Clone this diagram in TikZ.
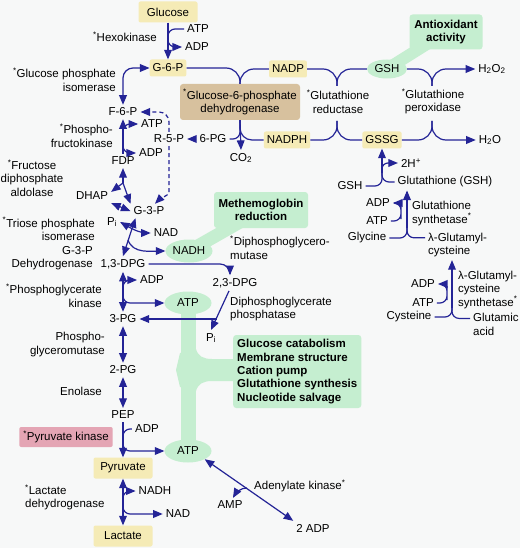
\documentclass[tikz,border=0pt]{standalone}
\usepackage{fontspec}
\setmainfont{Liberation Sans}
\usetikzlibrary{arrows}
\usetikzlibrary{shapes}
\usetikzlibrary{backgrounds,positioning}
\usepackage{xcolor}

\definecolor{pathblue}{RGB}{36,36,150}
\definecolor{paleyellow}{RGB}{245,235,182}
\definecolor{palegreen}{RGB}{197,238,208}
\definecolor{paletan}{RGB}{215,193,158}
\definecolor{palepink}{RGB}{228,165,180}
\definecolor{paper}{RGB}{247,248,248}

\newcommand{\enz}{\textsuperscript{*}}

\tikzstyle{metabox}=[fill=paleyellow,rounded corners=2pt,inner xsep=3pt,inner ysep=2pt,minimum height=17pt]
\tikzstyle{bigbox}=[metabox,minimum width=59pt,minimum height=21pt]
\tikzstyle{greenoval}=[ellipse,fill=palegreen,inner sep=0pt,minimum width=47pt,minimum height=23pt]
\tikzstyle{rolebox}=[fill=palegreen,rounded corners=3pt,font=\fontsize{11.5}{13.3}\selectfont\bfseries]
\tikzstyle{band}=[palegreen,line cap=butt]
\tikzstyle{rxn}=[pathblue,line width=1.2pt,rounded corners=7pt]
\tikzstyle{flow}=[rxn,->,>=triangle 45]
\tikzstyle{twoway}=[rxn,<->,>=triangle 45]

\begin{document}
\begin{tikzpicture}[x=1pt,y=-1pt,font=\fontsize{11.5}{13.3}\selectfont,inner sep=3pt]
  \useasboundingbox (0,0) rectangle (520,548);

  % glycolysis
  \node[bigbox]  (glucose)  at (168,12)  {Glucose};
  \node          (hkatp)    at (198,29)  {ATP};
  \node          (hkadp)    at (197,47)  {ADP};
  \node[anchor=east] (hklab) at (160,37) {\enz Hexokinase};
  \node[metabox] (g6p)      at (168,68)  {G-6-P};
  \node[anchor=east,align=right] (gpilab) at (119,79.5) {\enz Glucose phosphate\\isomerase};
  \node          (f6p)      at (123,112) {F-6-P};
  \node          (pfkatp)   at (152,124) {ATP};
  \node          (pfkadp)   at (151,153) {ADP};
  \node[anchor=east,align=right] (pfklab) at (116,135.5) {\enz Phospho-\\fructokinase};
  \node          (fdp)      at (123,161) {FDP};
  \node[align=center] (aldlab) at (32,178) {\enz Fructose\\diphosphate\\aldolase};
  \node          (dhap)     at (92,196)  {DHAP};
  \node          (g3p)      at (149,211) {G-3-P};
  \node[anchor=east,align=right] (tpilab) at (98,229) {\enz Triose phosphate\\isomerase};
  \node          (pia)      at (112,222) {P\textsubscript{i}};
  \node          (nada)     at (166,233) {NAD};
  \node[greenoval] (nadha)  at (189,251) {NADH};
  \node[anchor=east,align=right] (gapdlab) at (96,258.5) {G-3-P\\Dehydrogenase};
  \node          (dpg13)    at (123,264) {1,3-DPG};
  \node[anchor=west,align=left] (dpgmlab) at (227,247.5) {\enz Diphosphoglycero-\\mutase};
  \node          (dpg23)    at (235,283) {2,3-DPG};
  \node[anchor=west,align=left] (dpgplab) at (227,309) {Diphosphoglycerate\\phosphatase};
  \node          (pib)      at (211,338) {P\textsubscript{i}};
  \node          (pgkadp)   at (152,280) {ADP};
  \node[greenoval] (atpa)   at (188,303) {ATP};
  \node[anchor=east,align=right] (pgklab) at (105,295.5) {\enz Phosphoglycerate\\kinase};
  \node          (pg3)      at (123,319) {3-PG};
  \node[anchor=east,align=right] (pgmlab) at (108,344.5) {Phospho-\\glyceromutase};
  \node          (pg2)      at (123,370) {2-PG};
  \node[anchor=east] (enolab) at (105,391) {Enolase};
  \node          (pep)      at (123,415) {PEP};
  \node          (pkadp)    at (147,429) {ADP};
  \node[fill=palepink,rounded corners=2pt,inner xsep=4pt,minimum height=20pt] (pklab) at (66,437) {\enz Pyruvate kinase};
  \node[greenoval] (atpb)   at (188,451) {ATP};
  \node[bigbox]  (pyruvate) at (123,468) {Pyruvate};
  \node          (ldhnadh)  at (155,491) {NADH};
  \node          (ldhnad)   at (178,514) {NAD};
  \node[anchor=west,align=left] (ldhlab) at (22,497.5) {\enz Lactate\\dehydrogenase};
  \node[bigbox]  (lactate)  at (123,536) {Lactate};
  \node          (amp)      at (230,505) {AMP};
  \node[anchor=west] (adklab) at (251,486) {Adenylate kinase\enz};
  \node          (adpb)     at (313,528) {2 ADP};

  % pentose shunt
  \node[fill=paletan,rounded corners=3pt,align=center,minimum width=120pt,minimum height=36pt,inner sep=1pt] (g6pd) at (240,102) {\enz Glucose-6-phosphate\\dehydrogenase};
  \node[metabox] (nadp)     at (288,69)  {NADP};
  \node[metabox] (nadph)    at (287,140) {NADPH};
  \node          (pg6)      at (213,139) {6-PG};
  \node          (r5p)      at (169,139) {R-5-P};
  \node          (co2)      at (241,158) {CO\textsubscript{2}};

  % glutathione
  \node[greenoval,minimum width=40pt,minimum height=19pt] (gsh) at (387,69) {GSH};
  \node          (htwootwo) at (492,69)  {H\textsubscript{2}O\textsubscript{2}};
  \node[align=center] (grlab)  at (338,101.5) {\enz Glutathione\\reductase};
  \node[align=center] (gpxlab) at (433,101.5) {\enz Glutathione\\peroxidase};
  \node[metabox] (gssg)     at (382,140) {GSSG};
  \node          (htwoo)    at (490,140) {H\textsubscript{2}O};
  \node          (gshb)     at (350,186) {GSH};
  \node          (hplus)    at (411,163) {2H\textsuperscript{+}};
  \node          (gshname)  at (445,182) {Glutathione (GSH)};
  \node          (gsadp)    at (378,203) {ADP};
  \node          (gsatp)    at (377,221) {ATP};
  \node          (glycine)  at (367,238) {Glycine};
  \node[anchor=west,align=left] (gslab)  at (409,213.5) {Glutathione\\synthetase\enz};
  \node[anchor=west,align=left] (glucys) at (425,245) {λ-Glutamyl-\\cysteine};
  \node          (gcsadp)   at (423,284) {ADP};
  \node          (gcsatp)   at (423,303) {ATP};
  \node          (cysteine) at (409,317) {Cysteine};
  \node[anchor=west,align=left] (glutamic) at (470,324.5) {Glutamic\\acid};
  \node[anchor=west,align=left] (gcslab)   at (455,290) {λ-Glutamyl-\\cysteine\\synthetase\enz};

  % roles
  \node[rolebox,align=center,minimum width=94pt,minimum height=36pt] (methem) at (261,210) {Methemoglobin\\reduction};
  \node[rolebox,align=center,minimum width=73pt,minimum height=35pt] (antiox) at (446,32) {Antioxidant\\activity};
  \node[rolebox,align=left,anchor=west,minimum height=73pt,inner xsep=4pt] (roles) at (233,371.5) {Glucose catabolism\\Membrane structure\\Cation pump\\Glutathione synthesis\\Nucleotide salvage};

  \begin{pgfonlayer}{background}
    \fill[paper] (0,0) rectangle (520,548);
    \draw[band,line width=13pt] (nadha.center) -- (methem.center);
    \draw[band,line width=12pt] (gsh.center) -- (antiox.center);
    \draw[band,line width=15pt] (atpa.center) -- (atpb.center);
    \fill[palegreen] (180,353) -- (176,370) -- (180,387) -- (196,391) .. controls (198,384) and (203,381) .. (212,381)
      -- (236,381) -- (236,359) -- (212,359) .. controls (203,359) and (198,356) .. (196,349) -- cycle;
  \end{pgfonlayer}

  % hexokinase, isomerase, PFK
  \coordinate (hkj) at (168,38);
  \draw[flow] (glucose) -- (g6p);
  \draw[rxn]  (hkatp.west) -| (hkj);
  \draw[flow] (hkj) |- (hkadp.west);
  \draw[twoway,rounded corners=10pt] (f6p.north) |- (g6p.west);
  \coordinate (pfkj) at (123,131);
  \coordinate (pfkk) at (123,141);
  \draw[flow] (fdp.north) -- (f6p.south);
  \draw[flow] (pfkj) |- (pfkatp.west);
  \draw[flow] (pfkk) |- (pfkadp.west);

  % aldolase, TPI, G3PD
  \coordinate (aldj) at (123,183);
  \draw[flow] (aldj) -- (fdp.south);
  \draw[flow] (aldj) -- ([yshift=-3pt]dhap.north east);
  \draw[flow] (aldj) -- (g3p.north west);
  \draw[twoway] (dhap.south east) -- (g3p.west);
  \draw[twoway] ([xshift=5pt]g3p.south west) -- (dpg13.north);
  \draw[twoway] (pia.east) to[out=-30,in=180] (nada.west);
  \coordinate (gapdj) at (128,240);
  \draw[flow] (gapdj) to[out=-70,in=180] (nadha.west);

  % Rapoport-Luebering shunt
  \draw[flow,rounded corners=10pt] (dpg13.east) -| ([xshift=-5pt]dpg23.north);
  \draw[flow] ([xshift=-6pt]dpg23.south) -- (pib.north);
  \coordinate (dpgpj) at (216.5,319);
  \draw[flow] (dpgpj) -- (pg3.east);

  % lower glycolysis
  \draw[twoway] (dpg13.south) -- (pg3.north);
  \coordinate (pgkj) at (123,289);
  \draw[flow] (pgkj) |- (pgkadp.west);
  \draw[flow] (pgkj) |- (atpa.west);
  \draw[twoway] (pg3.south) -- (pg2.north);
  \draw[twoway] (pg2.south) -- (pep.north);
  \draw[flow] (pep.south) -- (pyruvate.north);
  \coordinate (pkj) at (123,440);
  \draw[rxn]  (pkadp.west) -| (pkj);
  \draw[flow] (pkj) |- (atpb.west);
  \draw[twoway] (pyruvate.south) -- (lactate.north);
  \coordinate (ldhj) at (123,501);
  \draw[flow] (ldhj) |- (ldhnadh.west);
  \draw[flow] (ldhj) |- (ldhnad.west);
  \draw[twoway] (atpb.south east) -- (adpb.north west);
  \coordinate (adkj) at (247,488);
  \draw[flow] (adkj) to[out=180,in=60] ([xshift=3pt]amp.north);

  % pentose shunt
  \draw[rxn,rounded corners=14pt] (g6p.east) -| (g6pd.north);
  \draw[rxn,rounded corners=14pt] (nadp.west) -| (g6pd.north);
  \draw[rxn,rounded corners=7pt] (g6pd.south) |- (pg6.east);
  \draw[rxn,rounded corners=12pt] (g6pd.south) |- (nadph.west);
  \draw[flow] (g6pd.south) -- (co2.north);
  \draw[flow] (pg6.west) -- (r5p.east);
  \draw[flow,dash pattern=on 4pt off 3pt,rounded corners=10pt] (r5p.north) |- (f6p.east);
  \coordinate (r5pbend) at (169,186);
  \draw[flow,dash pattern=on 4pt off 3pt] (r5p.south) -- (r5pbend) to[out=-90,in=45] ([xshift=6pt]g3p.north);

  % glutathione reductase and peroxidase
  \coordinate (grtop) at (337,86);
  \coordinate (grbot) at (337,121);
  \draw[rxn,rounded corners=14pt] (nadp.east) -| (grtop);
  \draw[rxn,rounded corners=14pt] (gsh.west) -| (grtop);
  \draw[rxn,rounded corners=14pt] (nadph.east) -| (grbot);
  \draw[rxn,rounded corners=14pt] (gssg.west) -| (grbot);
  \coordinate (gpxtop) at (432,86);
  \coordinate (gpxbot) at (432,121);
  \draw[rxn,rounded corners=14pt]  (gsh.east) -| (gpxtop);
  \draw[flow,rounded corners=14pt] (gpxtop) |- (htwootwo.west);
  \draw[rxn,rounded corners=14pt]  (gssg.east) -| (gpxbot);
  \draw[flow,rounded corners=14pt] (gpxbot) |- (htwoo.west);

  % glutathione synthesis
  \coordinate (gssgj) at (382,173);
  \draw[flow] (gssgj) -- (gssg.south);
  \draw[rxn]  (gshb.east) -| (gssgj);
  \draw[rxn]  (gshname.west) -| (gssgj);
  \draw[flow,rounded corners=6pt] (gssgj) |- (hplus.west);
  \coordinate (gsj) at (407,228);
  \draw[flow] (gsj) -- (gsj |- gshname.south);
  \draw[rxn]  (glycine.east) -| (gsj);
  \draw[rxn]  ([yshift=-8pt]glucys.north west) -| (gsj);
  \coordinate (gsbow) at (401,212);
  \draw[flow] (gsatp.east) -| (gsbow) |- (gsadp.east);
  \coordinate (gcsj) at (452,308);
  \draw[flow] (gcsj) -- (gcsj |- glucys.south);
  \draw[rxn]  (cysteine.east) -| (gcsj);
  \draw[rxn]  ([yshift=-8pt]glutamic.north west) -| (gcsj);
  \coordinate (gcsbow) at (447,293);
  \draw[flow] (gcsatp.east) -| (gcsbow) |- (gcsadp.east);
\end{tikzpicture}
\end{document}
